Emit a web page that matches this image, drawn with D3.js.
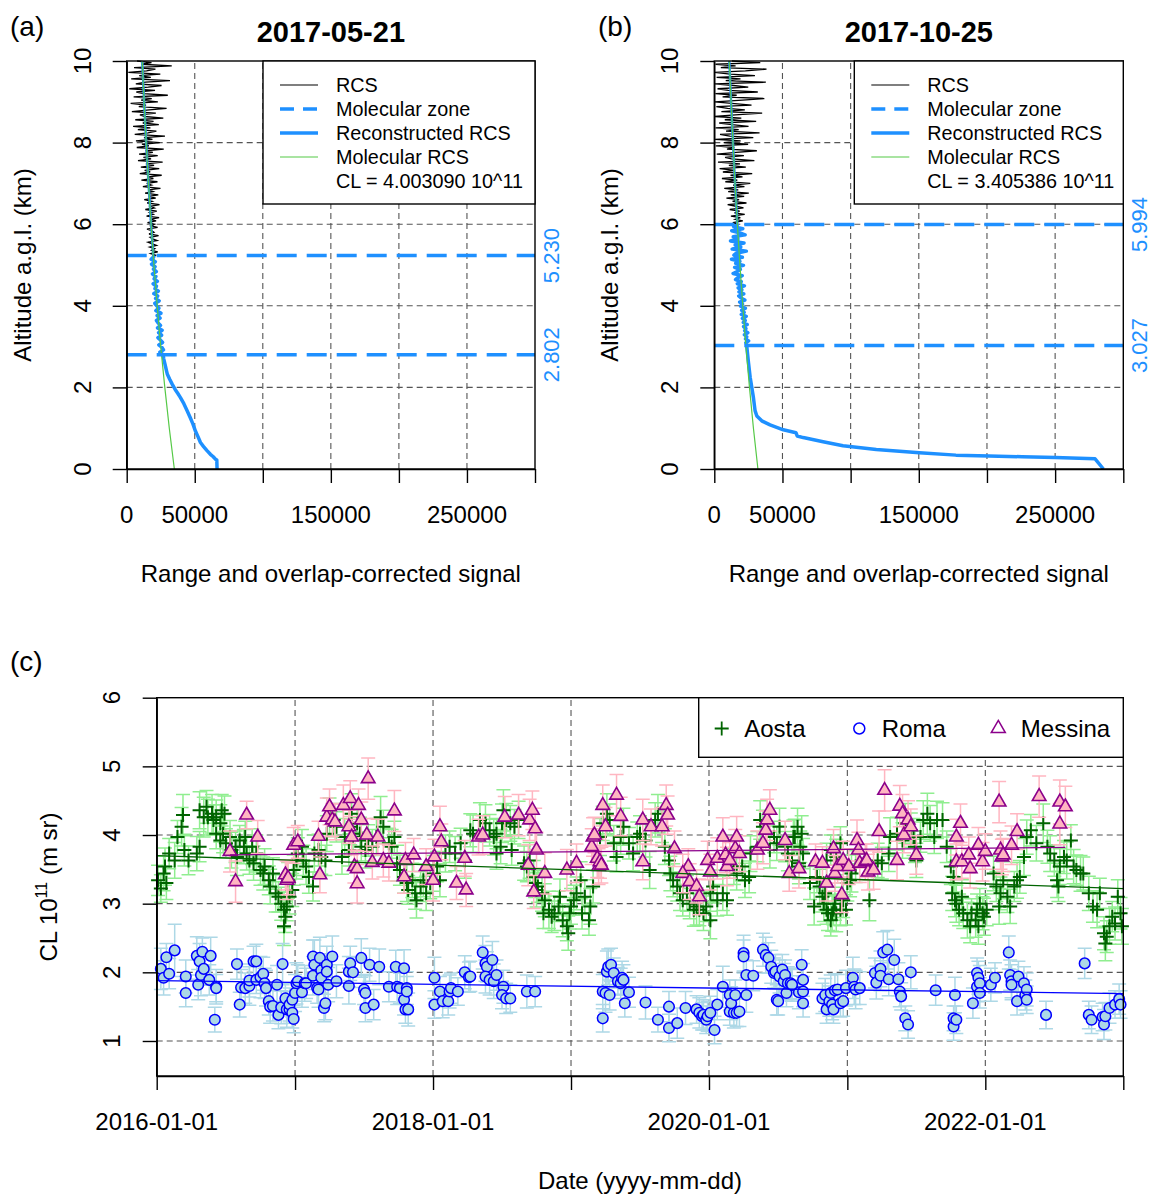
<!DOCTYPE html>
<meta charset="utf-8">
<script src="https://d3js.org/d3.v7.min.js"></script>
<style>
  body { margin: 0; background: #fff; }
  text { font-family: "Liberation Sans", Arial, Helvetica, sans-serif; }
</style>
<div id="chart"></div>
<script>

// ---------- panel (a) 2017-05-21 : [altitude km, signal] ----------
const rcsA = [[5.20,19500],[5.24,21200],[5.28,17600],[5.32,22800],[5.36,18300],[5.40,20600],[5.44,16900],[5.48,21900],[5.52,18800],[5.56,15700],[5.60,22300],[5.64,19100],[5.68,17200],[5.72,23400],[5.76,16400],[5.80,20100],[5.84,18500],[5.88,14900],[5.92,22700],[5.96,17800],[6.00,20400],[6.04,15300],[6.08,21600],[6.12,17100],[6.16,23800],[6.20,14600],[6.24,19500],[6.28,16800],[6.32,22100],[6.36,13700],[6.40,20300],[6.44,17500],[6.48,24100],[6.52,15100],[6.56,18700],[6.60,12900],[6.64,21300],[6.68,16200],[6.72,23200],[6.76,13500],[6.80,19400],[6.84,15800],[6.88,24800],[6.92,11900],[6.96,18100],[7.00,14700],[7.04,22600],[7.08,10800],[7.12,19600],[7.16,15900],[7.20,25700],[7.24,9600],[7.28,17300],[7.32,13200],[7.36,23900],[7.40,10400],[7.44,20100],[7.48,14100],[7.52,26400],[7.56,8300],[7.60,17900],[7.64,12300],[7.68,22800],[7.72,9100],[7.76,19200],[7.80,13900],[7.84,27200],[7.88,7400],[7.92,16300],[7.96,11200],[8.00,24300],[8.04,6800],[8.08,18900],[8.12,12700],[8.16,28100],[8.20,5900],[8.24,15700],[8.28,21800],[8.32,8200],[8.36,17400],[8.40,4700],[8.44,23600],[8.48,11800],[8.52,19700],[8.56,6300],[8.60,26900],[8.64,13300],[8.68,9700],[8.72,21400],[8.76,3800],[8.80,16600],[8.84,29300],[8.88,8900],[8.92,14200],[8.96,2900],[9.00,22900],[9.04,10600],[9.08,18400],[9.12,5100],[9.16,30200],[9.20,12400],[9.24,7100],[9.28,20800],[9.32,1900],[9.36,15800],[9.40,25600],[9.44,6700],[9.48,13900],[9.52,31800],[9.56,3300],[9.60,17700],[9.64,9200],[9.68,24700],[9.72,1200],[9.76,14600],[9.80,21100],[9.84,5400],[9.88,33100],[9.92,10900],[9.96,18200],[10.00,7600]];
const recZoneA = [[2.80,26800],[2.86,24300],[2.92,27100],[2.98,25900],[3.04,23600],[3.10,26400],[3.16,24800],[3.22,22900],[3.28,25700],[3.34,23400],[3.40,26100],[3.46,22600],[3.52,24900],[3.58,23100],[3.64,21800],[3.70,24600],[3.76,22300],[3.82,25200],[3.88,21400],[3.94,23700],[4.00,22100],[4.06,20600],[4.12,23900],[4.18,21200],[4.24,22800],[4.30,19900],[4.36,23300],[4.42,20700],[4.48,21900],[4.54,19400],[4.60,22600],[4.66,20100],[4.72,21500],[4.78,18900],[4.84,21800],[4.90,19600],[4.96,20900],[5.02,18200],[5.08,21100],[5.14,17900],[5.20,19800],[5.23,20300]];
const recLowA = [[2.80,26800],[2.70,27200],[2.60,27900],[2.50,28600],[2.40,29300],[2.33,29800],[2.20,31600],[2.08,33400],[1.95,35600],[1.85,37600],[1.75,39500],[1.60,42000],[1.43,44400],[1.25,46800],[1.10,48700],[0.93,50500],[0.80,52300],[0.65,54200],[0.55,56500],[0.45,59000],[0.36,61500],[0.30,63600],[0.24,65200],[0.22,66200],[0.00,66400]];
const molA = [[0,35000],[1,31300],[2,28000],[3,25000],[4,22400],[5,20000],[6,17900],[7,16000],[8,14300],[9,12800],[10,11400]];
const zoneA = [2.802, 5.230];

// ---------- panel (b) 2017-10-25 ----------
const rcsB = [[6.00,17200],[6.04,13600],[6.08,20900],[6.12,15400],[6.16,19100],[6.20,12200],[6.24,22300],[6.28,14800],[6.32,18600],[6.36,11300],[6.40,21400],[6.44,15900],[6.48,9800],[6.52,23600],[6.56,13400],[6.60,18200],[6.64,8900],[6.68,21900],[6.72,12100],[6.76,25300],[6.80,10200],[6.84,17600],[6.88,7300],[6.92,22100],[6.96,13800],[7.00,26400],[7.04,8100],[7.08,16900],[7.12,5600],[7.16,20700],[7.20,11900],[7.24,27800],[7.28,6300],[7.32,15200],[7.36,3900],[7.40,23100],[7.44,10700],[7.48,18800],[7.52,2700],[7.56,29400],[7.60,12600],[7.64,7900],[7.68,21700],[7.72,1800],[7.76,16100],[7.80,31200],[7.84,9300],[7.88,14700],[7.92,1100],[7.96,24800],[8.00,6900],[8.04,19300],[8.08,600],[8.12,28600],[8.16,11400],[8.20,4200],[8.24,33200],[8.28,8600],[8.32,17900],[8.36,900],[8.40,25100],[8.44,13100],[8.48,3600],[8.52,30700],[8.56,7700],[8.60,19800],[8.64,400],[8.68,15300],[8.72,35100],[8.76,5200],[8.80,22400],[8.84,9800],[8.88,1500],[8.92,27300],[8.96,12800],[9.00,300],[9.04,20600],[9.08,36700],[9.12,6100],[9.16,16400],[9.20,800],[9.24,31900],[9.28,10300],[9.32,2400],[9.36,24900],[9.40,14100],[9.44,500],[9.48,37800],[9.52,8400],[9.56,19200],[9.60,1700],[9.64,29800],[9.68,11700],[9.72,200],[9.76,22800],[9.80,38300],[9.84,4800],[9.88,15600],[9.92,900],[9.96,33700],[10.00,12900]];
const recZoneB = [[3.03,24200],[3.09,23100],[3.14,25200],[3.19,22900],[3.24,23800],[3.29,22100],[3.34,24600],[3.39,22300],[3.44,23200],[3.49,21500],[3.54,24100],[3.59,21300],[3.64,22700],[3.69,20600],[3.74,23400],[3.79,19800],[3.84,21900],[3.89,20100],[3.94,22800],[3.99,19300],[4.04,20700],[4.09,18600],[4.14,22400],[4.19,19600],[4.24,17900],[4.29,21600],[4.34,18100],[4.39,20200],[4.44,17500],[4.49,22100],[4.54,16900],[4.59,19800],[4.64,15600],[4.69,17300],[4.74,20500],[4.79,13800],[4.84,16800],[4.89,19100],[4.94,14900],[4.99,21400],[5.04,15700],[5.09,18800],[5.14,12600],[5.19,20600],[5.24,14400],[5.29,16200],[5.34,23500],[5.39,13100],[5.44,19400],[5.49,15300],[5.54,21800],[5.59,11900],[5.64,17100],[5.69,13900],[5.74,22600],[5.79,18400],[5.84,12800],[5.89,20900],[5.94,14200],[5.99,17600]];
const recLowB = [[3.03,24200],[2.98,23900],[2.60,25100],[2.25,26300],[1.75,28700],[1.43,29900],[1.30,31200],[1.18,34800],[1.08,40900],[0.96,50600],[0.89,59900],[0.81,60800],[0.77,65200],[0.67,79800],[0.57,94400],[0.48,118800],[0.40,150400],[0.34,177200],[0.32,201500],[0.30,225800],[0.28,250100],[0.25,279300],[0.00,285400]];
const molB = [[0,32000],[1,28700],[2,25800],[3,23200],[4,20900],[5,18800],[6,16900],[7,15200],[8,13700],[9,12300],[10,11000]];
const zoneB = [3.027, 5.994];

const signalTicks = [0, 50000, 100000, 150000, 200000, 250000, 300000];
const signalLabels = [0, 50000, 150000, 250000];
const altTicks = [0, 2, 4, 6, 8, 10];
const profileLegend = ["RCS", "Molecular zone", "Reconstructed RCS", "Molecular RCS"];

// ---------- panel (c) : [decimal year, CL 10^11, error] ----------
const aosta = [
[2016.01,3.34,.22],[2016.05,3.44,.25],[2016.03,3.22,.2],[2016.07,3.30,.24],[2016.06,3.54,.27],[2016.09,3.73,.22],[2016.13,3.63,.26],[2016.15,3.97,.24],[2016.18,4.12,.28],[2016.20,3.78,.23],[2016.23,3.63,.21],[2016.19,4.29,.3],[2016.29,3.73,.25],[2016.31,3.83,.22],[2016.31,4.36,.27],[2016.34,4.26,.29],[2016.36,4.41,.24],[2016.37,4.26,.26],[2016.40,4.31,.28],[2016.41,4.22,.22],[2016.43,4.26,.25],[2016.46,4.17,.27],[2016.47,4.36,.23],[2016.49,4.31,.26],[2016.43,4.02,.22],[2016.46,3.92,.25],[2016.48,4.02,.28],[2016.50,3.88,.21],[2016.53,3.97,.24],[2016.54,3.78,.26],[2016.57,3.83,.23],[2016.58,3.68,.27],[2016.60,3.92,.22],[2016.63,3.83,.25],[2016.65,3.73,.24],[2016.67,3.63,.2],[2016.69,3.83,.26],[2016.64,3.97,.23],[2016.70,3.59,.25],[2016.72,3.73,.27],[2016.75,3.49,.22],[2016.77,3.44,.24],[2016.78,3.54,.26],[2016.81,3.34,.21],[2016.82,3.25,.25],[2016.84,3.44,.23],[2016.86,3.15,.27],[2016.88,3.10,.22],[2016.90,3.00,.24],[2016.92,2.91,.26],[2016.93,2.81,.23],[2016.92,2.67,.28],[2016.94,2.96,.21],[2016.96,3.10,.25],[2016.98,3.20,.24],[2016.95,3.34,.26],[2016.99,3.49,.22],[2017.01,3.63,.27],[2017.02,3.73,.23],[2017.05,3.83,.25],[2017.06,3.63,.22],[2017.08,3.54,.26],[2017.10,3.39,.24],[2017.13,3.25,.21],[2017.14,3.73,.27],[2017.17,3.78,.23],[2017.19,3.68,.25],[2017.22,3.63,.22],[2017.23,4.02,.26],[2017.25,4.26,.28],[2017.28,4.22,.24],[2017.30,4.12,.22],[2017.34,3.68,.25],[2017.36,3.97,.27],[2017.39,3.78,.23],[2017.40,4.12,.26],[2017.41,4.31,.29],[2017.42,3.97,.22],[2017.45,4.17,.25],[2017.47,4.02,.24],[2017.48,3.83,.21],[2017.51,3.78,.26],[2017.53,3.92,.23],[2017.56,3.83,.25],[2017.59,3.97,.27],[2017.62,4.26,.3],[2017.64,4.12,.24],[2017.68,3.88,.22],[2017.70,3.83,.25],[2017.72,3.97,.23],[2017.74,3.59,.26],[2017.76,3.49,.22],[2017.79,3.39,.24],[2017.81,3.30,.27],[2017.82,3.20,.21],[2017.85,3.34,.25],[2017.87,3.15,.23],[2017.88,3.05,.26],[2017.91,3.25,.22],[2017.93,3.34,.24],[2017.95,3.15,.25],[2017.98,3.30,.23],[2018.00,3.44,.26],[2018.03,3.54,.22],[2018.05,3.34,.24],[2018.09,3.73,.27],[2018.12,3.83,.23],[2018.16,3.73,.25],[2018.20,3.88,.22],[2018.23,3.63,.26],[2018.27,4.07,.24],[2018.29,4.02,.27],
[2018.34,4.22,.25],[2018.38,4.17,.27],[2018.41,4.07,.23],[2018.44,3.97,.26],[2018.46,4.02,.22],[2018.49,3.83,.25],[2018.50,4.17,.28],[2018.51,4.36,.3],[2018.53,4.22,.24],[2018.56,4.17,.26],[2018.57,3.78,.22],[2018.59,4.12,.25],[2018.62,4.22,.27],[2018.46,3.73,.23],[2018.66,3.59,.25],[2018.68,3.54,.22],[2018.70,3.63,.26],[2018.73,3.39,.24],[2018.74,3.30,.21],[2018.75,3.20,.25],[2018.76,3.25,.23],[2018.79,3.15,.26],[2018.80,2.86,.22],[2018.81,3.05,.24],[2018.84,2.91,.27],[2018.86,2.81,.23],[2018.88,2.86,.25],[2018.91,2.96,.22],[2018.92,3.10,.26],[2018.94,2.76,.24],[2018.97,2.67,.21],[2018.98,2.57,.25],[2018.99,2.86,.23],[2019.00,2.96,.26],[2019.02,3.05,.22],[2019.04,3.15,.24],[2019.07,3.34,.27],[2019.08,2.86,.23],[2019.10,3.10,.25],[2019.13,2.76,.22],[2019.14,2.96,.26],[2019.16,3.25,.24],[2019.21,3.97,.27],[2019.23,4.17,.25],[2019.26,4.31,.29],[2019.28,4.22,.23],[2019.31,3.88,.26],[2019.33,3.68,.22],[2019.36,3.97,.25],[2019.38,4.12,.27],[2019.42,3.88,.23],[2019.45,3.73,.25],[2019.48,3.97,.22],[2019.50,4.02,.26],[2019.54,3.92,.24],[2019.57,3.49,.27],[2019.61,4.22,.25],[2019.63,4.31,.28],[2019.66,4.12,.23],[2019.68,3.83,.26],[2019.71,3.63,.22],[2019.72,3.44,.25],[2019.74,3.34,.24],[2019.77,3.25,.21],[2019.79,3.15,.25],[2019.81,3.05,.23],[2019.84,3.15,.26],[2019.86,3.00,.22],[2019.89,2.91,.24],[2019.91,2.96,.27],[2019.93,2.91,.23],[2019.96,2.86,.25],[2019.98,2.96,.22],[2020.01,3.15,.26],[2020.03,3.25,.24],[2020.01,2.76,.27],[2020.06,3.05,.23],[2020.10,3.15,.25],[2020.13,3.05,.22],[2020.18,3.54,.26],[2020.20,3.44,.24],[2020.24,3.54,.21],[2020.26,3.34,.25],[2020.29,3.39,.23],[2020.30,3.73,.26],[2020.35,3.83,.22],[2020.37,4.22,.28],[2020.39,4.12,.24],[2020.44,3.78,.26],[2020.47,3.97,.23],[2020.49,3.88,.25],[2020.51,4.12,.27],[2020.55,3.83,.22],[2020.57,3.73,.25],[2020.60,3.63,.24],[2020.62,3.97,.26],[2020.65,3.59,.23],
[2020.61,3.97,.25],[2020.64,4.12,.27],[2020.66,3.83,.23],[2020.67,4.02,.26],[2020.68,3.73,.22],[2020.65,3.54,.25],[2020.73,3.30,.24],[2020.76,2.96,.27],[2020.78,3.39,.23],[2020.80,3.25,.25],[2020.82,3.10,.22],[2020.83,3.00,.26],[2020.84,3.15,.24],[2020.85,2.91,.21],[2020.86,2.86,.25],[2020.88,2.76,.23],[2020.89,2.86,.26],[2020.90,2.91,.22],[2020.91,3.00,.24],[2020.92,2.86,.27],[2020.95,2.91,.23],[2020.97,3.05,.25],[2020.99,2.91,.22],[2021.00,3.30,.26],[2021.02,3.34,.24],[2021.03,3.44,.27],[2021.06,3.54,.23],[2020.85,3.63,.25],[2020.88,3.78,.22],[2020.92,3.68,.26],[2020.95,3.88,.24],[2021.16,3.05,.3],[2021.22,3.63,.25],[2021.25,3.59,.23],[2021.30,3.73,.26],[2021.31,3.97,.28],[2021.36,4.02,.24],[2021.40,3.92,.26],[2021.42,4.17,.29],[2021.46,4.07,.25],[2021.48,3.97,.27],[2021.49,3.83,.23],[2021.50,3.63,.25],[2021.53,3.97,.22],[2021.55,4.22,.28],[2021.58,4.31,.3],[2021.60,4.17,.26],[2021.63,3.97,.24],[2021.65,4.22,.27],[2021.69,4.22,.25],[2021.72,3.83,.23],[2021.75,3.54,.26],[2021.77,3.39,.22],[2021.76,3.15,.25],[2021.78,3.05,.24],[2021.79,3.00,.27],[2021.81,2.91,.23],[2021.83,3.10,.25],[2021.84,2.86,.22],[2021.87,2.76,.26],[2021.89,2.67,.24],[2021.90,2.86,.21],[2021.93,2.76,.25],[2021.94,2.91,.23],[2021.95,2.67,.26],[2021.96,3.00,.22],[2021.98,2.86,.24],[2021.99,2.81,.27],[2022.01,2.91,.23],[2022.06,3.44,.25],[2022.08,3.25,.22],[2022.10,2.96,.26],[2022.11,3.15,.24],[2022.13,3.34,.27],[2022.16,3.10,.23],[2022.18,2.96,.25],[2022.21,3.25,.22],[2022.23,3.34,.26],[2022.25,3.39,.24],[2022.28,3.68,.27],[2022.30,3.97,.25],[2022.33,4.07,.23],[2022.37,3.88,.26],[2022.42,4.17,.28],[2022.45,3.83,.24],[2022.47,3.73,.26],[2022.50,3.63,.23],[2022.52,3.34,.25],[2022.53,3.25,.22],[2022.54,3.54,.26],[2022.57,3.68,.24],[2022.59,3.63,.27],[2022.62,3.92,.23],[2022.64,3.54,.25],[2022.66,3.49,.22],[2022.69,3.44,.26],[2022.71,3.44,.24],[2022.75,3.15,.25],[2022.78,2.96,.23],[2022.81,2.91,.26],[2022.83,3.15,.22],[2022.86,2.57,.24],[2022.87,2.42,.25],[2022.88,2.52,.23],[2022.90,2.67,.26],[2022.92,2.81,.22],[2022.94,2.71,.24],[2022.96,3.10,.25],[2022.98,2.86,.23],[2022.99,2.67,.26]];

const roma = [
[2016.03,2.05,.3],[2016.05,1.92,.25],[2016.07,2.22,.2],[2016.09,1.98,.22],[2016.13,2.32,.38],[2016.21,1.94,.24],[2016.21,1.70,.2],[2016.29,2.24,.28],[2016.30,1.82,.22],[2016.31,2.16,.26],[2016.32,1.96,.3],[2016.33,2.30,.2],[2016.34,2.05,.24],[2016.38,1.89,.22],[2016.39,2.24,.27],[2016.42,1.31,.18],[2016.43,1.79,.25],[2016.43,1.77,.2],[2016.58,2.12,.22],[2016.60,1.53,.18],[2016.61,1.78,.26],[2016.64,1.77,.22],[2016.67,1.80,.28],[2016.67,1.88,.24],[2016.70,2.16,.22],[2016.72,2.16,.25],[2016.72,1.89,.2],[2016.75,1.93,.3],[2016.77,1.98,.24],[2016.78,1.84,.22],[2016.79,1.77,.26],[2016.81,1.58,.2],[2016.82,1.50,.24],[2016.84,1.51,.22],[2016.87,1.82,.28],[2016.88,1.38,.2],[2016.90,1.49,.24],[2016.91,2.12,.3],[2016.93,1.62,.22],[2016.94,1.46,.26],[2016.96,1.46,.2],[2016.96,1.53,.24],[2016.98,1.41,.22],[2016.98,1.60,.25],[2016.99,1.32,.2],[2017.00,1.70,.27],[2017.01,1.84,.3],[2017.02,1.87,.24],[2017.05,1.71,.22],[2017.07,1.84,.26],[2017.08,1.84,.22],[2017.13,1.95,.28],[2017.13,2.23,.24],[2017.14,2.11,.36],[2017.16,1.77,.22],[2017.17,1.75,.26],[2017.18,2.21,.3],[2017.19,2.03,.24],[2017.19,1.92,.22],[2017.21,1.48,.2],[2017.22,1.55,.24],[2017.23,2.11,.27],[2017.23,2.01,.22],[2017.24,1.82,.25],[2017.27,2.23,.3],[2017.30,1.87,.24],[2017.39,2.01,.22],[2017.39,1.80,.26],[2017.40,2.13,.25],[2017.42,2.00,.22],[2017.48,2.21,.28],[2017.50,1.75,.22],[2017.51,1.70,.25],[2017.51,1.48,.2],[2017.54,2.11,.24],[2017.57,1.53,.22],[2017.61,2.08,.26],[2017.68,1.79,.22],[2017.73,2.08,.24],[2017.74,1.79,.26],[2017.76,1.77,.22],[2017.79,2.06,.27],[2017.79,1.60,.22],[2017.80,1.46,.2],[2017.81,1.77,.24],[2017.81,1.72,.22],[2017.82,1.46,.24],[2018.01,1.92,.3],[2018.01,1.53,.2],[2018.05,1.72,.22],[2018.07,1.58,.24],[2018.11,1.58,.2],[2018.12,1.72,.24],[2018.13,1.77,.22],[2018.18,1.72,.2],[2018.23,2.00,.24],[2018.26,1.93,.22],
[2018.27,1.94,.22],[2018.36,2.29,.24],[2018.38,2.13,.26],[2018.39,2.08,.22],[2018.43,2.18,.27],[2018.38,1.94,.24],[2018.41,1.89,.22],[2018.44,1.87,.25],[2018.46,1.96,.22],[2018.51,1.79,.24],[2018.50,1.67,.2],[2018.53,1.62,.22],[2018.56,1.62,.2],[2018.68,1.72,.24],[2018.74,1.72,.22],[2019.23,1.33,.2],[2019.23,1.72,.25],[2019.25,1.70,.28],[2019.26,2.01,.3],[2019.27,2.08,.26],[2019.28,1.67,.22],[2019.29,2.11,.24],[2019.31,1.99,.22],[2019.34,1.87,.2],[2019.36,1.84,.22],[2019.37,1.92,.24],[2019.38,1.89,.22],[2019.39,1.55,.2],[2019.42,1.71,.22],[2019.54,1.56,.24],[2019.63,1.31,.18],[2019.71,1.50,.22],[2019.71,1.19,.2],[2019.77,1.26,.22],[2019.83,1.48,.24],[2019.91,1.46,.2],[2019.93,1.41,.22],[2019.95,1.36,.2],[2019.96,1.38,.22],[2019.98,1.31,.2],[2019.99,1.36,.22],[2020.01,1.41,.24],[2020.04,1.16,.2],[2020.06,1.53,.22],[2020.10,1.79,.3],[2020.15,1.67,.22],[2020.15,1.43,.2],[2020.18,1.41,.22],[2020.16,1.55,.24],[2020.19,1.67,.22],[2020.20,1.41,.2],[2020.22,1.43,.22],[2020.25,2.28,.26],[2020.25,2.23,.24],[2020.27,1.96,.22],[2020.27,1.67,.25],[2020.32,1.95,.22],[2020.39,2.33,.24],[2020.41,2.25,.26],[2020.43,2.21,.22],[2020.45,2.08,.24],[2020.47,1.99,.22],[2020.48,2.01,.25],[2020.49,1.60,.22],[2020.50,1.58,.2],[2020.51,1.94,.24],[2020.53,2.04,.22],[2020.54,1.87,.26],[2020.55,1.96,.22],[2020.56,1.70,.2],[2020.57,1.84,.24],[2020.60,1.82,.22],[2020.65,1.71,.24],
[2020.59,1.84,.22],[2020.60,1.82,.24],[2020.67,2.11,.22],[2020.68,1.89,.24],[2020.68,1.72,.22],[2020.68,1.55,.2],[2020.82,1.62,.22],[2020.84,1.67,.24],[2020.85,1.46,.2],[2020.87,1.58,.22],[2020.88,1.70,.26],[2020.89,1.53,.22],[2020.90,1.46,.2],[2020.91,1.74,.24],[2020.93,1.75,.22],[2020.95,1.55,.2],[2020.97,1.58,.22],[2020.99,1.77,.26],[2021.04,1.92,.3],[2021.05,1.79,.26],[2021.06,1.75,.28],[2021.09,1.77,.24],[2021.20,1.99,.22],[2021.21,1.85,.24],[2021.24,2.05,.26],[2021.24,1.95,.22],[2021.26,2.29,.3],[2021.29,2.33,.28],[2021.30,1.90,.24],[2021.34,2.18,.3],[2021.37,1.90,.24],[2021.38,1.72,.22],[2021.39,1.65,.2],[2021.42,1.33,.18],[2021.44,1.24,.2],[2021.46,2.00,.24],[2021.64,1.74,.22],[2021.77,1.21,.2],[2021.77,1.33,.18],[2021.78,1.67,.26],[2021.79,1.31,.2],[2021.91,1.55,.22],[2021.94,1.99,.22],[2021.95,1.92,.24],[2021.94,1.79,.22],[2021.96,1.84,.26],[2021.96,1.70,.22],[2022.04,1.82,.24],[2022.07,1.92,.22],[2022.17,2.29,.24],[2022.18,1.96,.22],[2022.19,1.87,.24],[2022.19,1.82,.22],[2022.23,1.58,.2],[2022.24,1.94,.22],[2022.28,1.84,.24],[2022.29,1.67,.22],[2022.30,1.75,.24],[2022.30,1.60,.2],[2022.44,1.38,.2],[2022.72,2.13,.22],[2022.75,1.38,.2],[2022.77,1.31,.2],[2022.85,1.35,.2],[2022.86,1.24,.22],[2022.87,1.36,.2],[2022.90,1.48,.22],[2022.94,1.53,.2],[2022.97,1.61,.22],[2022.98,1.53,.2]];

const messina = [
[2016.53,3.76,.3],[2016.57,3.32,.3],[2016.65,4.29,.2],[2016.73,3.97,.24],[2016.93,3.42,.22],[2016.94,3.34,.28],[2016.95,3.37,.24],[2016.99,3.85,.26],[2017.02,3.90,.24],[2017.17,3.98,.22],[2017.18,3.42,.26],[2017.23,4.26,.28],[2017.25,4.41,.26],[2017.27,4.22,.24],[2017.29,4.19,.26],[2017.35,4.43,.3],[2017.40,4.53,.26],[2017.39,4.12,.24],[2017.41,3.97,.26],[2017.43,3.54,.24],[2017.45,3.51,.26],[2017.45,3.29,.28],[2017.46,4.43,.24],[2017.48,4.22,.26],[2017.52,4.00,.24],[2017.53,4.82,.3],[2017.56,3.60,.24],[2017.60,3.97,.26],[2017.64,3.63,.24],[2017.68,3.59,.26],[2017.72,4.35,.3],[2017.79,3.39,.24],[2017.80,3.63,.26],[2017.86,3.71,.24],[2017.95,3.54,.26],[2018.00,3.34,.3],[2018.01,3.68,.26],[2018.05,4.12,.3],[2018.06,3.90,.26],[2018.17,3.30,.24],[2018.23,3.66,.26],[2018.24,3.20,.24],[2018.33,3.97,.26],
[2018.36,4.00,.28],[2018.52,4.26,.3],[2018.62,4.29,.3],[2018.70,4.22,.3],[2018.72,4.36,.28],[2018.74,4.09,.3],[2018.75,3.78,.26],[2018.69,3.56,.3],[2018.81,3.44,.3],[2018.73,3.17,.24],[2018.97,3.49,.3],[2019.04,3.59,.28],[2019.15,3.83,.26],[2019.16,3.97,.28],[2019.17,4.00,.26],[2019.19,3.66,.28],[2019.20,3.54,.26],[2019.21,3.61,.24],[2019.22,3.56,.26],[2019.23,4.43,.3],[2019.25,4.12,.28],[2019.33,4.58,.3],[2019.36,4.27,.28],[2019.52,4.22,.3],[2019.52,3.61,.26],[2019.58,4.12,.26],[2019.66,4.12,.28],[2019.69,4.43,.3],[2019.70,4.29,.28],[2019.75,3.80,.26],[2019.85,3.54,.26],[2019.81,3.44,.28],[2019.86,3.32,.26],[2019.91,3.25,.24],[2019.93,3.10,.26],[2019.99,3.63,.28],[2020.01,3.46,.26],[2020.06,3.66,.3],[2020.10,3.97,.28],[2020.12,3.71,.26],[2020.13,3.54,.28],[2020.15,3.63,.26],[2020.19,3.80,.28],[2020.20,3.97,.3],[2020.22,3.73,.26],[2020.35,3.78,.28],[2020.39,3.88,.3],[2020.41,4.07,.28],[2020.42,4.22,.3],[2020.44,4.36,.3],[2020.55,3.92,.28],[2020.58,3.44,.26],
[2020.65,3.51,.28],[2020.77,3.61,.26],[2020.82,3.59,.24],[2020.85,3.30,.26],[2020.90,3.80,.28],[2020.91,3.44,.26],[2020.93,3.54,.24],[2020.96,3.13,.26],[2020.97,3.63,.28],[2021.01,3.54,.26],[2021.07,3.92,.3],[2021.08,3.78,.26],[2021.09,3.59,.28],[2021.13,3.61,.26],[2021.14,3.63,.24],[2021.15,3.46,.26],[2021.19,3.49,.28],[2021.23,4.05,.3],[2021.27,4.65,.3],[2021.36,3.63,.28],[2021.38,4.42,.3],[2021.40,4.31,.28],[2021.41,4.00,.26],[2021.44,4.22,.28],[2021.46,4.12,.26],[2021.50,3.71,.28],[2021.79,3.97,.26],[2021.82,4.17,.28],[2021.79,3.61,.26],[2021.83,3.61,.24],[2021.88,3.71,.26],[2021.89,3.51,.28],[2021.95,3.85,.26],[2021.98,3.61,.28],[2022.00,3.76,.26],[2022.10,4.48,.3],[2022.11,3.78,.28],[2022.12,3.68,.26],[2022.13,3.71,.24],[2022.19,3.85,.28],[2022.23,4.05,.26],[2022.39,4.56,.3],[2022.54,4.48,.32],[2022.54,4.16,.3],[2022.58,4.41,.3]];

const aostaTrend = [[2016.0, 3.70], [2023.0, 3.22]];
const romaTrend = [[2016.0, 1.88], [2023.0, 1.69]];
const messinaTrend = [[2016.53, 3.71], [2022.58, 3.82]];
const yearTicks = [2016, 2017, 2018, 2019, 2020, 2021, 2022, 2023];
const yearLabels = [2016, 2018, 2020, 2022];
const clTicks = [1, 2, 3, 4, 5, 6];
const stations = ["Aosta", "Roma", "Messina"];

// ---------- drawing ----------
const W = 1152, H = 1196;
const blue = "#1E90FF", molGreen = "#55C946";
const svg = d3.select("#chart").append("svg").attr("width", W).attr("height", H);

function dashedGrid(g, lines) {
  g.selectAll(null).data(lines).join("line")
    .attr("x1", d => d[0]).attr("y1", d => d[1]).attr("x2", d => d[2]).attr("y2", d => d[3])
    .attr("stroke", "#555").attr("stroke-width", 1.1).attr("stroke-dasharray", "6,4");
}

function profilePanel(p) {
  const x = d3.scaleLinear().domain([0, 300000]).range([p.left, p.right]);
  const y = d3.scaleLinear().domain([0, 10]).range([469, 61]);
  const g = svg.append("g");

  dashedGrid(g, signalTicks.slice(1, -1).map(v => [x(v), y(0), x(v), y(10)])
    .concat(altTicks.slice(1, -1).map(v => [x(0), y(v), x(300000), y(v)])));

  const line = d3.line().x(d => x(d[1])).y(d => y(d[0]));
  g.append("path").datum(p.rcs).attr("d", line).attr("fill", "none").attr("stroke", "#000").attr("stroke-width", 1.3);
  g.append("path").datum(p.mol.filter(d => d[0] >= Math.floor(p.zone[1])))
    .attr("d", line).attr("fill", "none").attr("stroke", blue).attr("stroke-width", 2.4);
  g.append("path").datum(p.recZone.slice().reverse().concat(p.recLow))
    .attr("d", line).attr("fill", "none").attr("stroke", blue).attr("stroke-width", 3.5).attr("stroke-linejoin", "round");
  g.append("path").datum(p.mol).attr("d", line).attr("fill", "none").attr("stroke", molGreen).attr("stroke-width", 1.2);

  g.selectAll(null).data(p.zone).join("line")
    .attr("x1", x(0)).attr("x2", x(300000)).attr("y1", d => y(d)).attr("y2", d => y(d))
    .attr("stroke", blue).attr("stroke-width", 3.5).attr("stroke-dasharray", "20,10");
  g.selectAll(null).data(p.zone).join("text")
    .attr("transform", d => `translate(${p.right + 24},${y(d)}) rotate(-90)`)
    .attr("text-anchor", "middle").attr("font-size", 22).attr("fill", blue)
    .text(d => d.toFixed(3));

  // axes
  g.append("g").attr("transform", "translate(0,469)")
    .call(d3.axisBottom(x).tickValues(signalTicks).tickSize(14).tickSizeOuter(0).tickFormat(""))
    .call(a => a.selectAll("line,path").attr("stroke", "#000").attr("stroke-width", 1.4));
  g.append("g").attr("transform", `translate(${p.left},0)`)
    .call(d3.axisLeft(y).tickValues(altTicks).tickSize(14).tickSizeOuter(0).tickFormat(""))
    .call(a => a.selectAll("line,path").attr("stroke", "#000").attr("stroke-width", 1.4));
  g.append("rect").attr("x", p.left).attr("y", 61).attr("width", p.right - p.left).attr("height", 408)
    .attr("fill", "none").attr("stroke", "#000").attr("stroke-width", 1.4);

  g.selectAll(null).data(signalLabels).join("text")
    .attr("x", d => x(d)).attr("y", 523).attr("text-anchor", "middle").attr("font-size", 24).text(d => d);
  g.selectAll(null).data(altTicks).join("text")
    .attr("transform", d => `translate(${p.left - 36},${y(d)}) rotate(-90)`)
    .attr("text-anchor", "middle").attr("font-size", 24).text(d => d);
  g.append("text").attr("x", (p.left + p.right) / 2).attr("y", 582).attr("text-anchor", "middle")
    .attr("font-size", 24).text("Range and overlap-corrected signal");
  g.append("text").attr("transform", `translate(${p.left - 96},265) rotate(-90)`)
    .attr("text-anchor", "middle").attr("font-size", 24).text("Altitude a.g.l. (km)");
  g.append("text").attr("x", (p.left + p.right) / 2).attr("y", 42).attr("text-anchor", "middle")
    .attr("font-size", 29).attr("font-weight", "bold").text(p.title);
  g.append("text").attr("x", p.tagX).attr("y", 36).attr("font-size", 28).text(p.tag);

  // legend
  const lx = p.legendLeft;
  g.append("rect").attr("x", lx).attr("y", 61).attr("width", p.right - lx).attr("height", 143)
    .attr("fill", "#fff").attr("stroke", "#000").attr("stroke-width", 1.4);
  const styles = [
    {c: "#000", w: 1.2, dash: null},
    {c: blue, w: 3.5, dash: "14,9"},
    {c: blue, w: 3.5, dash: null},
    {c: molGreen, w: 1.2, dash: null}
  ];
  const rowY = [85, 109, 133, 157, 181];
  profileLegend.forEach((name, i) => {
    g.append("line").attr("x1", lx + 17).attr("x2", lx + 55).attr("y1", rowY[i]).attr("y2", rowY[i])
      .attr("stroke", styles[i].c).attr("stroke-width", styles[i].w).attr("stroke-dasharray", styles[i].dash);
    g.append("text").attr("x", lx + 73).attr("y", rowY[i] + 7).attr("font-size", 19.8).text(name);
  });
  g.append("text").attr("x", lx + 73).attr("y", rowY[4] + 7).attr("font-size", 19.8).text(p.cl);
}

profilePanel({left: 126.7, right: 535, title: "2017-05-21", tag: "(a)", tagX: 10,
  rcs: rcsA, recZone: recZoneA, recLow: recLowA, mol: molA, zone: zoneA,
  cl: "CL = 4.003090 10^11", legendLeft: 263});
profilePanel({left: 714.3, right: 1123.3, title: "2017-10-25", tag: "(b)", tagX: 598,
  rcs: rcsB, recZone: recZoneB, recLow: recLowB, mol: molB, zone: zoneB,
  cl: "CL = 3.405386 10^11", legendLeft: 854.3});

// ---------- panel (c) ----------
const toDate = v => {
  const yr = Math.floor(v), a = new Date(yr, 0, 1), b = new Date(yr + 1, 0, 1);
  return new Date(a.getTime() + (v - yr) * (b - a));
};
const xc = d3.scaleTime().domain([new Date(2016, 0, 1), new Date(2023, 0, 1)]).range([156.7, 1123.3]);
const yc = d3.scaleLinear().domain([0.49, 6]).range([1076, 697.7]);
const gc = svg.append("g");

dashedGrid(gc, yearTicks.slice(1, -1).map(v => [xc(toDate(v)), yc(0.49), xc(toDate(v)), yc(6)])
  .concat(clTicks.slice(0, -1).map(v => [xc.range()[0], yc(v), xc.range()[1], yc(v)])));

function errorBars(data, color, cap) {
  gc.append("g").selectAll("path").data(data).join("path")
    .attr("d", d => {
      const x = xc(toDate(d[0])), lo = yc(d[1] - d[2]), hi = yc(d[1] + d[2]);
      return `M${x},${lo}V${hi}M${x - cap},${lo}H${x + cap}M${x - cap},${hi}H${x + cap}`;
    })
    .attr("fill", "none").attr("stroke", color).attr("stroke-width", 1.5);
}

errorBars(aosta, "#90EE90", 7);
gc.append("g").selectAll("path").data(aosta).join("path")
  .attr("d", d => { const x = xc(toDate(d[0])), y = yc(d[1]); return `M${x - 7},${y}H${x + 7}M${x},${y - 7}V${y + 7}`; })
  .attr("stroke", "#006400").attr("stroke-width", 2);

errorBars(roma, "#ADD8E6", 7);
gc.append("g").selectAll("circle").data(roma).join("circle")
  .attr("cx", d => xc(toDate(d[0]))).attr("cy", d => yc(d[1])).attr("r", 5.3)
  .attr("fill", "#ADD8E6").attr("stroke", "#0000FF").attr("stroke-width", 1.5);

errorBars(messina, "#FFB6C1", 7);
const tri = d3.symbol(d3.symbolTriangle, 80);
gc.append("g").selectAll("path").data(messina).join("path")
  .attr("transform", d => `translate(${xc(toDate(d[0]))},${yc(d[1])})`).attr("d", tri)
  .attr("fill", "#FFB6C1").attr("stroke", "#8B008B").attr("stroke-width", 1.6);

const tline = d3.line().x(d => xc(toDate(d[0]))).y(d => yc(d[1]));
[[aostaTrend, "#006400"], [romaTrend, "#0000FF"], [messinaTrend, "#8B008B"]].forEach(([t, c]) => {
  gc.append("path").datum(t).attr("d", tline).attr("stroke", c).attr("stroke-width", 1.3).attr("fill", "none");
});

gc.append("g").attr("transform", "translate(0,1076)")
  .call(d3.axisBottom(xc).tickValues(yearTicks.map(toDate)).tickSize(14).tickSizeOuter(0).tickFormat(""))
  .call(a => a.selectAll("line,path").attr("stroke", "#000").attr("stroke-width", 1.4));
gc.append("g").attr("transform", "translate(156.7,0)")
  .call(d3.axisLeft(yc).tickValues(clTicks).tickSize(14).tickSizeOuter(0).tickFormat(""))
  .call(a => a.selectAll("line,path").attr("stroke", "#000").attr("stroke-width", 1.4));
gc.append("rect").attr("x", 156.7).attr("y", 697.7).attr("width", 1123.3 - 156.7).attr("height", 1076 - 697.7)
  .attr("fill", "none").attr("stroke", "#000").attr("stroke-width", 1.4);

const fmt = d3.timeFormat("%Y-%m-%d");
gc.selectAll(null).data(yearLabels).join("text")
  .attr("x", d => xc(toDate(d))).attr("y", 1130).attr("text-anchor", "middle").attr("font-size", 24)
  .text(d => fmt(toDate(d)));
gc.selectAll(null).data(clTicks).join("text")
  .attr("transform", d => `translate(120,${yc(d)}) rotate(-90)`)
  .attr("text-anchor", "middle").attr("font-size", 24).text(d => d);
gc.append("text").attr("x", 640).attr("y", 1189).attr("text-anchor", "middle").attr("font-size", 24)
  .text("Date (yyyy-mm-dd)");
const yl = gc.append("text").attr("transform", "translate(57,887) rotate(-90)")
  .attr("text-anchor", "middle").attr("font-size", 24);
yl.append("tspan").text("CL 10");
yl.append("tspan").attr("dy", -10).attr("font-size", 16).text("11");
yl.append("tspan").attr("dy", 10).text(" (m sr)");
gc.append("text").attr("x", 10).attr("y", 671).attr("font-size", 28).text("(c)");

// legend (c)
gc.append("rect").attr("x", 698.7).attr("y", 697.7).attr("width", 1123.3 - 698.7).attr("height", 59.6)
  .attr("fill", "#fff").attr("stroke", "#000").attr("stroke-width", 1.4);
const legX = [721.7, 859.3, 998.3], legY = 728.5;
gc.append("path").attr("d", `M${legX[0] - 7},${legY}H${legX[0] + 7}M${legX[0]},${legY - 7}V${legY + 7}`)
  .attr("stroke", "#006400").attr("stroke-width", 1.8);
gc.append("circle").attr("cx", legX[1]).attr("cy", legY).attr("r", 5.5)
  .attr("fill", "none").attr("stroke", "#0000FF").attr("stroke-width", 1.5);
gc.append("path").attr("transform", `translate(${legX[2]},${legY})`).attr("d", d3.symbol(d3.symbolTriangle, 85))
  .attr("fill", "none").attr("stroke", "#8B008B").attr("stroke-width", 1.5);
stations.forEach((s, i) => {
  gc.append("text").attr("x", legX[i] + 22.5).attr("y", 737).attr("font-size", 24).text(s);
});

</script>
